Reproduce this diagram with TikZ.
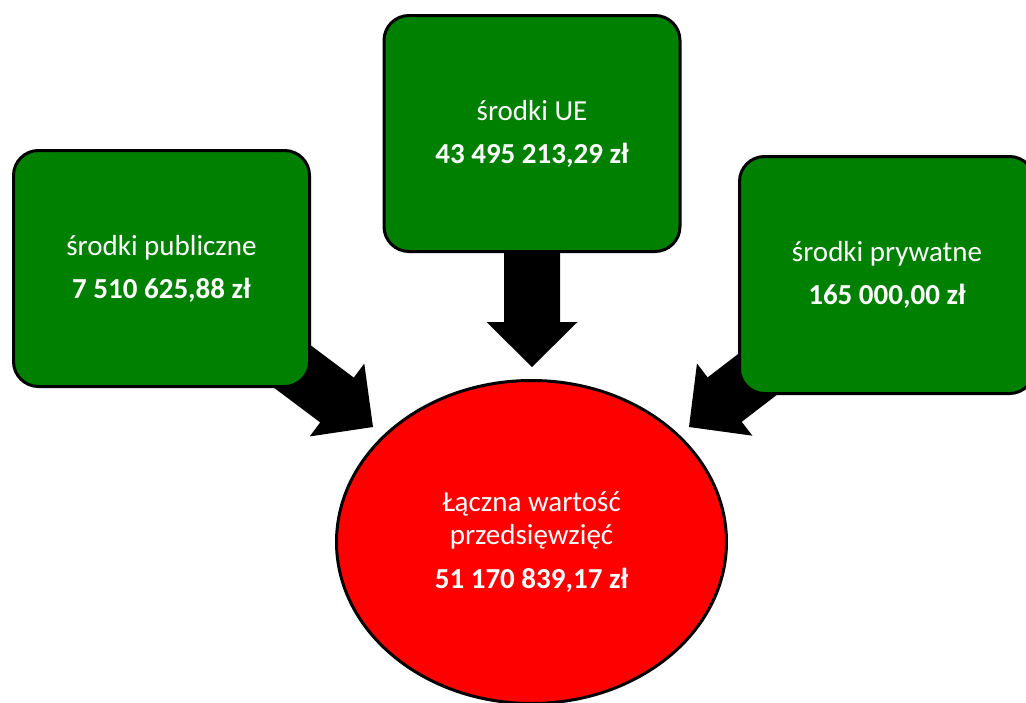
\documentclass[tikz,border=0pt]{standalone}
\usepackage{fontspec}
\setmainfont{Carlito}
\usetikzlibrary{calc,shapes.geometric}
\definecolor{boxgreen}{RGB}{0,128,0}
\definecolor{totalred}{RGB}{255,0,0}
\begin{document}
\begin{tikzpicture}[x=1pt,y=-1pt,
  fundbox/.style={draw=black,line width=3pt,fill=boxgreen,rounded corners=25pt,
    minimum width=296pt,minimum height=236pt,text=white,align=center,inner sep=0pt,
    font=\fontsize{29}{35}\selectfont},
  totalell/.style={ellipse,draw=black,line width=3pt,fill=totalred,
    minimum width=390pt,minimum height=323pt,text=white,align=center,inner sep=0pt,
    font=\fontsize{29}{33}\selectfont},
  blockarrow/.style={fill=black,draw=none}]
\useasboundingbox (0,0) rectangle (1026,702);
\clip (0,0) rectangle (1026,702);

% anchor coordinates for arrows
\coordinate (pubc) at (161.5,268.5);
\coordinate (uec) at (532,133.5);
\coordinate (prywc) at (887,275);
\coordinate (tipL) at (373,427);
\coordinate (tipM) at (532,367);
\coordinate (tipR) at (689,427);

% block arrows (drawn under the boxes)
\foreach \s/\t in {pubc/tipL, uec/tipM, prywc/tipR}{
  \coordinate (h) at ($(\t)!45pt!(\s)$);
  \fill[blockarrow]
    ($(\s)!28pt!90:(\t)$) -- ($(h)!28pt!90:(\t)$) -- ($(h)!45.5pt!90:(\t)$)
    -- (\t) -- ($(h)!45.5pt!-90:(\t)$) -- ($(h)!28pt!-90:(\t)$)
    -- ($(\s)!28pt!-90:(\t)$) -- cycle;
}

\node[fundbox] (pub) at (pubc) {środki publiczne\\[8pt]\textbf{7 510 625,88 zł}};
\node[fundbox] (ue) at (uec) {środki UE\\[8pt]\textbf{43 495 213,29 zł}};
\node[fundbox,minimum width=295pt,minimum height=237pt] (pryw) at (prywc) {środki prywatne\\[8pt]\textbf{165 000,00 zł}};
\node[totalell] (total) at (531.5,542) {Łączna wartość\\przedsięwzięć\\[11pt]\textbf{51 170 839,17 zł}};
\end{tikzpicture}
\end{document}
